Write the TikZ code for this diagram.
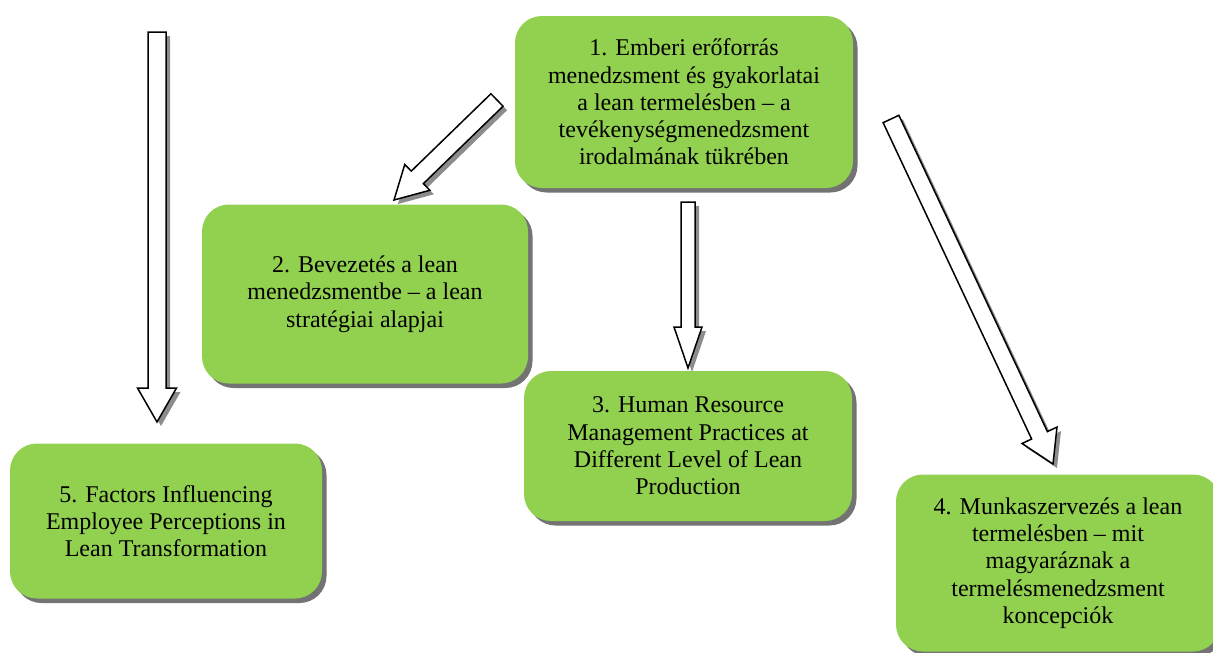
\documentclass[tikz,border=0pt]{standalone}
\usepackage{fontspec}
\setmainfont{Liberation Serif}
\usetikzlibrary{calc,shadows}

\definecolor{leangreen}{RGB}{146,208,80}

\tikzset{every picture/.style={line width=0.75pt}}
\tikzset{
  topic/.style={rectangle, rounded corners=27pt, fill=leangreen, align=center, inner sep=0pt,
    font=\fontsize{24}{27.3}\selectfont,
    drop shadow={shadow xshift=4.5pt, shadow yshift=-4.5pt, fill=black!55, opacity=1}},
  blockarr/.style={draw=black, line width=1.5pt, fill=white,
    drop shadow={shadow xshift=4pt, shadow yshift=-4pt, fill=black!45, opacity=1}}
}

% block arrow: tail, tip, half shaft, half head, head length
\newcommand{\blockarrow}[5]{%
  \draw[blockarr] let \p1=($(#2)-(#1)$), \n1={atan2(\y1,\x1)}, \n2={veclen(\x1,\y1)} in
    ($(#1)+(\n1+90:#3)$) -- ++(\n1:{\n2-#5}) -- ++(\n1+90:{#4-#3}) -- (#2)
    -- ($(#1)+(\n1-90:#4)+(\n1:{\n2-#5})$) -- ++(\n1+90:{#4-#3}) -- ($(#1)+(\n1-90:#3)$) -- cycle;
}

\begin{document}
\begin{tikzpicture}[x=1pt,y=-1pt]
    \useasboundingbox (0,0) rectangle (1213,653);
    %Shape: Rounded Rect [topics]
    \node[topic, minimum width=338, minimum height=172] (hrm) at (684,102)
      {1. Emberi erőforrás\\ menedzsment és gyakorlatai\\ a lean termelésben -- a\\ tevékenységmenedzsment\\ irodalmának tükrében};
    \node[topic, minimum width=326, minimum height=179] (bevez) at (365,294)
      {2. Bevezetés a lean\\ menedzsmentbe -- a lean\\ stratégiai alapjai};
    \node[topic, minimum width=328, minimum height=150] (levels) at (688,446)
      {3. Human Resource\\ Management Practices at\\ Different Level of Lean\\ Production};
    \node[topic, minimum width=324, minimum height=177] (munka) at (1058,563)
      {4. Munkaszervezés a lean\\ termelésben -- mit\\ magyaráznak a\\ termelésmenedzsment\\ koncepciók};
    \node[topic, minimum width=312, minimum height=155] (factors) at (166,521)
      {5. Factors Influencing\\ Employee Perceptions in\\ Lean Transformation};
    % arrow ends
    \coordinate (tail5) at (157,32);
    \coordinate (tip5) at (157,422);
    \coordinate (tail2) at (497,100);
    \coordinate (tip2) at (394,200);
    \coordinate (tail3) at (688,202);
    \coordinate (tip3) at (688,368);
    \coordinate (tail4) at (891,119);
    \coordinate (tip4) at (1053,464);
    %Shape: Block Arrows
    \blockarrow{tail5}{tip5}{9pt}{19.5pt}{34pt}
    \blockarrow{tail2}{tip2}{8.7pt}{18pt}{32.5pt}
    \blockarrow{tail3}{tip3}{7pt}{14pt}{41pt}
    \blockarrow{tail4}{tip4}{8.7pt}{19.3pt}{31.7pt}
\end{tikzpicture}
\end{document}
